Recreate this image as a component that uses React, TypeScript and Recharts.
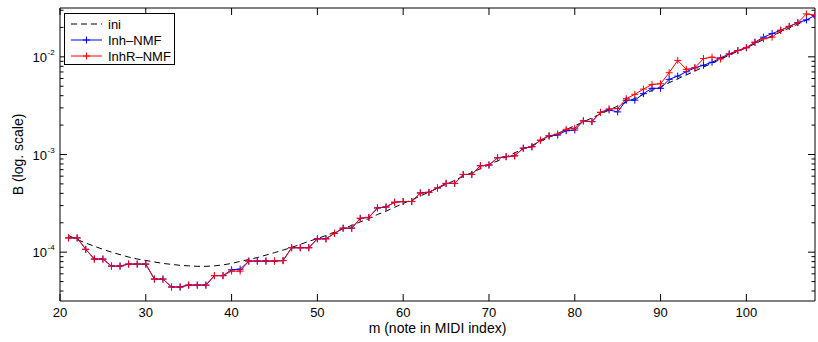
import { LineChart, Line, XAxis, YAxis, Legend, ReferenceArea } from "recharts";

// MIDI note index on the x axis
const midi = [
  21, 22, 23, 24, 25, 26, 27, 28, 29, 30, 31, 32, 33, 34, 35, 36, 37, 38, 39, 40,
  41, 42, 43, 44, 45, 46, 47, 48, 49, 50, 51, 52, 53, 54, 55, 56, 57, 58, 59, 60,
  61, 62, 63, 64, 65, 66, 67, 68, 69, 70, 71, 72, 73, 74, 75, 76, 77, 78, 79, 80,
  81, 82, 83, 84, 85, 86, 87, 88, 89, 90, 91, 92, 93, 94, 95, 96, 97, 98, 99, 100,
  101, 102, 103, 104, 105, 106, 107, 108,
];

// initialisation curve (dashed)
const ini = [
  1.48e-4, 1.35e-4, 1.24e-4, 1.15e-4, 1.07e-4, 1.0e-4, 9.44e-5, 8.91e-5, 8.51e-5, 8.22e-5,
  7.94e-5, 7.67e-5, 7.5e-5, 7.33e-5, 7.24e-5, 7.16e-5, 7.16e-5, 7.24e-5, 7.41e-5, 7.67e-5,
  8.04e-5, 8.41e-5, 8.81e-5, 9.33e-5, 9.89e-5, 1.05e-4, 1.12e-4, 1.2e-4, 1.29e-4, 1.38e-4,
  1.48e-4, 1.6e-4, 1.74e-4, 1.88e-4, 2.04e-4, 2.21e-4, 2.43e-4, 2.63e-4, 2.88e-4, 3.16e-4,
  3.43e-4, 3.76e-4, 4.12e-4, 4.52e-4, 4.95e-4, 5.43e-4, 5.96e-4, 6.53e-4, 7.16e-4, 7.85e-4,
  8.61e-4, 9.44e-4, 1.04e-3, 1.14e-3, 1.24e-3, 1.36e-3, 1.5e-3, 1.64e-3, 1.8e-3, 1.97e-3,
  2.16e-3, 2.37e-3, 2.6e-3, 2.85e-3, 3.13e-3, 3.43e-3, 3.76e-3, 4.12e-3, 4.52e-3, 4.95e-3,
  5.43e-3, 5.96e-3, 6.53e-3, 7.16e-3, 7.85e-3, 8.61e-3, 9.44e-3, 1.04e-2, 1.14e-2, 1.24e-2,
  1.36e-2, 1.5e-2, 1.64e-2, 1.8e-2, 1.97e-2, 2.16e-2, 2.37e-2, 2.6e-2,
];

// Inh-NMF estimates (blue)
const inh = [
  1.4e-4, 1.4e-4, 1.07e-4, 8.5e-5, 8.5e-5, 7.2e-5, 7.2e-5, 7.55e-5, 7.55e-5, 7.55e-5,
  5.3e-5, 5.3e-5, 4.4e-5, 4.4e-5, 4.6e-5, 4.6e-5, 4.6e-5, 5.75e-5, 5.75e-5, 6.6e-5,
  6.7e-5, 8.1e-5, 8.1e-5, 8.1e-5, 8.1e-5, 8.2e-5, 1.11e-4, 1.11e-4, 1.11e-4, 1.37e-4,
  1.37e-4, 1.56e-4, 1.76e-4, 1.76e-4, 2.22e-4, 2.27e-4, 2.84e-4, 2.9e-4, 3.24e-4, 3.3e-4,
  3.3e-4, 4.04e-4, 4.1e-4, 4.54e-4, 5.06e-4, 5.06e-4, 6.25e-4, 6.25e-4, 7.67e-4, 7.8e-4,
  9.25e-4, 9.5e-4, 9.7e-4, 1.16e-3, 1.2e-3, 1.4e-3, 1.55e-3, 1.58e-3, 1.75e-3, 1.78e-3,
  2.21e-3, 2.17e-3, 2.7e-3, 2.86e-3, 2.73e-3, 3.6e-3, 3.6e-3, 4.2e-3, 4.76e-3, 4.76e-3,
  5.88e-3, 6.35e-3, 7.03e-3, 7.72e-3, 8.2e-3, 8.8e-3, 9.77e-3, 1.07e-2, 1.16e-2, 1.24e-2,
  1.41e-2, 1.59e-2, 1.73e-2, 1.87e-2, 2.05e-2, 2.24e-2, 2.39e-2, 2.65e-2,
];

// InhR-NMF estimates (red)
const inhR = [
  1.4e-4, 1.4e-4, 1.07e-4, 8.5e-5, 8.5e-5, 7.2e-5, 7.2e-5, 7.55e-5, 7.55e-5, 7.55e-5,
  5.3e-5, 5.3e-5, 4.4e-5, 4.4e-5, 4.6e-5, 4.6e-5, 4.6e-5, 5.75e-5, 5.75e-5, 6.4e-5,
  6.4e-5, 8.1e-5, 8.1e-5, 8.1e-5, 8.1e-5, 8.2e-5, 1.11e-4, 1.11e-4, 1.11e-4, 1.37e-4,
  1.37e-4, 1.56e-4, 1.76e-4, 1.76e-4, 2.22e-4, 2.27e-4, 2.84e-4, 2.9e-4, 3.24e-4, 3.3e-4,
  3.3e-4, 4.04e-4, 4.1e-4, 4.54e-4, 5.06e-4, 5.06e-4, 6.25e-4, 6.25e-4, 7.67e-4, 7.8e-4,
  9.25e-4, 9.5e-4, 9.7e-4, 1.16e-3, 1.2e-3, 1.4e-3, 1.55e-3, 1.62e-3, 1.81e-3, 1.86e-3,
  2.21e-3, 2.17e-3, 2.7e-3, 2.93e-3, 2.95e-3, 3.73e-3, 4.13e-3, 4.67e-3, 5.22e-3, 5.3e-3,
  6.87e-3, 9.2e-3, 7.44e-3, 7.72e-3, 9.6e-3, 9.93e-3, 9.5e-3, 1.07e-2, 1.16e-2, 1.24e-2,
  1.41e-2, 1.53e-2, 1.59e-2, 1.87e-2, 2.05e-2, 2.24e-2, 2.75e-2, 2.67e-2,
];

const xTicks = [20, 30, 40, 50, 60, 70, 80, 90, 100];
const yTicks = [
  4e-5, 5e-5, 6e-5, 7e-5, 8e-5, 9e-5,
  1e-4, 2e-4, 3e-4, 4e-4, 5e-4, 6e-4, 7e-4, 8e-4, 9e-4,
  1e-3, 2e-3, 3e-3, 4e-3, 5e-3, 6e-3, 7e-3, 8e-3, 9e-3,
  1e-2, 2e-2, 3e-2,
];
const X_MIN = 20;
const X_MAX = 108;
const Y_MIN = 3.1623e-5;
const Y_MAX = 3.1623e-2;

const W = 818;
const H = 342;
const MARGIN = { top: 8, right: 3, bottom: 0, left: 0 };
const Y_AXIS_W = 60;
const X_AXIS_H = 41;
const PLOT = {
  left: MARGIN.left + Y_AXIS_W,
  right: W - MARGIN.right,
  top: MARGIN.top,
  bottom: H - MARGIN.bottom - X_AXIS_H,
};
const FONT = "'Liberation Sans', Arial, Helvetica, sans-serif";
const MAJOR = 7;
const MINOR = 3.5;

const rows = midi.map((m, i) => ({ m, ini: ini[i], inh: inh[i], inhR: inhR[i] }));

function XTick(props: any) {
  const { x, payload } = props;
  return (
    <g>
      <line x1={x} x2={x} y1={PLOT.bottom} y2={PLOT.bottom - MAJOR} stroke="#000" />
      <line x1={x} x2={x} y1={PLOT.top} y2={PLOT.top + MAJOR} stroke="#000" />
      <text x={x} y={PLOT.bottom + 16} textAnchor="middle" fontSize={13} fontFamily={FONT} fill="#000">
        {payload.value}
      </text>
    </g>
  );
}

function YTick(props: any) {
  const { y, payload } = props;
  const exp = Math.log10(payload.value);
  const major = Math.abs(exp - Math.round(exp)) < 1e-6;
  const len = major ? MAJOR : MINOR;
  return (
    <g>
      <line x1={PLOT.left} x2={PLOT.left + len} y1={y} y2={y} stroke="#000" />
      <line x1={PLOT.right} x2={PLOT.right - len} y1={y} y2={y} stroke="#000" />
      {major && (
        <g fontFamily={FONT} fill="#000">
          <text x={47} y={y + 5} textAnchor="end" fontSize={13}>10</text>
          <text x={47.5} y={y - 2} fontSize={8}>{`-${Math.abs(Math.round(exp))}`}</text>
        </g>
      )}
    </g>
  );
}

function plusDot(color: string) {
  return (p: any) => {
    const { cx, cy, index } = p;
    if (cx == null || cy == null) return <g key={index} />;
    return (
      <path
        key={index}
        d={`M${cx - 3.5},${cy}h7M${cx},${cy - 3.5}v7`}
        stroke={color}
        strokeWidth={1}
        fill="none"
      />
    );
  };
}

const legendItems = [
  { label: "ini", color: "#000", dashed: true, marker: false },
  { label: "Inh–NMF", color: "#0000ff", dashed: false, marker: true },
  { label: "InhR–NMF", color: "#ff0000", dashed: false, marker: true },
];

function LegendBox() {
  return (
    <svg width={111} height={52} style={{ display: "block" }}>
      <rect x={0.5} y={0.5} width={110} height={51} fill="#fff" stroke="#000" />
      {legendItems.map((it, i) => {
        const cy = 11 + i * 16;
        return (
          <g key={it.label}>
            <line
              x1={7}
              x2={38}
              y1={cy}
              y2={cy}
              stroke={it.color}
              strokeDasharray={it.dashed ? "6 4" : undefined}
            />
            {it.marker && (
              <path d={`M${22.5 - 3.5},${cy}h7M22.5,${cy - 3.5}v7`} stroke={it.color} />
            )}
            <text x={44} y={cy + 4.5} fontSize={13} fontFamily={FONT} fill="#000">
              {it.label}
            </text>
          </g>
        );
      })}
    </svg>
  );
}

export default function App() {
  return (
    <div style={{ position: "absolute", left: 0, top: 0, background: "#fff" }}>
      <LineChart width={W} height={H} data={rows} margin={MARGIN}>
        <XAxis
          dataKey="m"
          type="number"
          domain={[X_MIN, X_MAX]}
          ticks={xTicks}
          interval={0}
          allowDataOverflow
          height={X_AXIS_H}
          axisLine={false}
          tickLine={false}
          tick={<XTick />}
          label={{
            content: (p: any) => {
              const vb = p.viewBox || {};
              return (
                <text
                  x={(vb.x ?? PLOT.left) + (vb.width ?? PLOT.right - PLOT.left) / 2}
                  y={PLOT.bottom + 32}
                  textAnchor="middle"
                  fontSize={14}
                  fontFamily={FONT}
                  fill="#000"
                >
                  m (note in MIDI index)
                </text>
              );
            },
          }}
        />
        <YAxis
          type="number"
          scale="log"
          domain={[Y_MIN, Y_MAX]}
          ticks={yTicks}
          interval={0}
          allowDataOverflow
          width={Y_AXIS_W}
          axisLine={false}
          tickLine={false}
          tick={<YTick />}
          label={{
            content: () => {
              const cx = 18;
              const cy = (PLOT.top + PLOT.bottom) / 2;
              return (
                <text
                  x={cx}
                  y={cy}
                  transform={`rotate(-90 ${cx} ${cy})`}
                  textAnchor="middle"
                  dominantBaseline="central"
                  fontSize={14}
                  fontFamily={FONT}
                  fill="#000"
                >
                  B (log. scale)
                </text>
              );
            },
          }}
        />
        <ReferenceArea
          x1={X_MIN}
          x2={X_MAX}
          y1={Y_MIN}
          y2={Y_MAX}
          fill="none"
          fillOpacity={0}
          stroke="#000"
          strokeWidth={1}
        />
        <Line
          dataKey="ini"
          type="linear"
          stroke="#000"
          strokeWidth={1}
          strokeDasharray="6 4"
          dot={false}
          isAnimationActive={false}
        />
        <Line
          dataKey="inh"
          type="linear"
          stroke="#0000ff"
          strokeWidth={1}
          dot={plusDot("#0000ff")}
          isAnimationActive={false}
        />
        <Line
          dataKey="inhR"
          type="linear"
          stroke="#ff0000"
          strokeWidth={1}
          dot={plusDot("#ff0000")}
          isAnimationActive={false}
        />
        <Legend
          layout="vertical"
          align="center"
          verticalAlign="middle"
          content={<LegendBox />}
          wrapperStyle={{ position: "absolute", left: 64, top: 13, width: 111, height: 52 }}
        />
      </LineChart>
    </div>
  );
}
